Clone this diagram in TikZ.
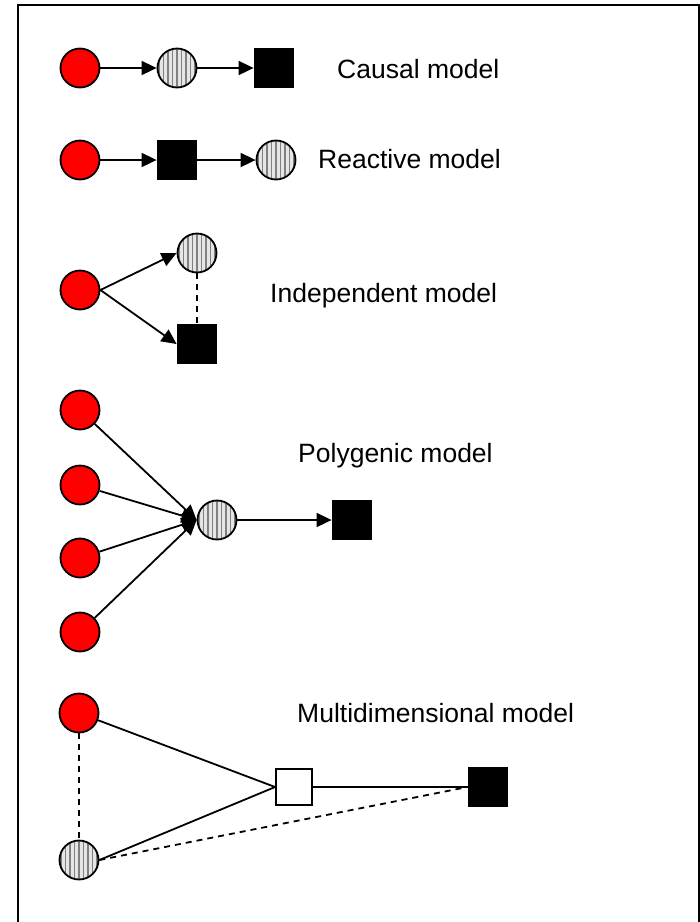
\documentclass[tikz,border=0pt]{standalone}
\usepackage{fontspec}
\setmainfont{Liberation Sans}
\usetikzlibrary{arrows.meta}
\begin{document}
\begin{tikzpicture}[x=1pt, y=-1pt, line width=1.8pt,
  redball/.style={draw, circle, fill=red, minimum size=39pt, inner sep=0pt},
  stripeball/.style={draw, circle, fill=gray!20, minimum size=39pt, inner sep=0pt,
    path picture={\foreach \s in {-18,-13.5,...,18}
      {\draw[gray, line width=1.6pt] ([xshift=\s pt]path picture bounding box.south) -- ([xshift=\s pt]path picture bounding box.north);}}},
  blacksq/.style={draw, rectangle, fill=black, minimum size=39pt, inner sep=0pt},
  whitesq/.style={draw, rectangle, fill=white, minimum size=36pt, inner sep=0pt},
  lbl/.style={anchor=base west, font=\fontsize{26.5}{30}\selectfont},
  dsh/.style={dash pattern=on 6pt off 5pt},
  arr/.style={-{Triangle[length=15pt, width=14pt]}}]
\useasboundingbox (0,0) rectangle (700,922);
\draw (18,5) rectangle (699,940);
% causal
\node[redball] (c1) at (80,68) {};
\node[stripeball] (c2) at (177,68) {};
\node[blacksq] (c3) at (274,68) {};
\node[lbl] (ct) at (333,78) {Causal model};
\draw[arr] (c1) -- (c2);
\draw[arr] (c2) -- (c3);
% reactive
\node[redball] (r1) at (80,160) {};
\node[blacksq] (r2) at (177,160) {};
\node[stripeball] (r3) at (276,160) {};
\node[lbl] (rt) at (314,168) {Reactive model};
\draw[arr] (r1) -- (r2);
\draw[arr] (r2) -- (r3);
% independent
\node[redball] (i1) at (80,290) {};
\node[stripeball] (i2) at (197,253) {};
\node[blacksq] (i3) at (197,344) {};
\node[lbl] (it) at (266,302) {Independent model};
\draw[arr] (i1.east) -- (i2.west);
\draw[arr] (i1.east) -- (i3.west);
\draw[dsh] (i2) -- (i3);
% polygenic
\node[redball] (p1) at (80,410) {};
\node[redball] (p2) at (80,485) {};
\node[redball] (p3) at (80,558) {};
\node[redball] (p4) at (80,632) {};
\node[stripeball] (p5) at (217,520) {};
\node[blacksq] (p6) at (352,520) {};
\node[lbl] (pt) at (294,462) {Polygenic model};
\foreach \n in {p1,p2,p3,p4}
  \draw[arr] (\n) -- (p5.west);
\draw[arr] (p5) -- (p6);
% multidimensional
\node[redball] (m1) at (79,713) {};
\node[stripeball] (m2) at (79,860) {};
\node[whitesq] (m3) at (294,787) {};
\node[blacksq] (m4) at (488,787) {};
\node[lbl] (mt) at (293,722) {Multidimensional model};
\draw (m1) -- (m3.west);
\draw (m2.east) -- (m3.west);
\draw (m3) -- (m4);
\draw[dsh] (m2.east) -- (m4.west);
\draw[dsh] (m1) -- (m2);
\end{tikzpicture}
\end{document}
